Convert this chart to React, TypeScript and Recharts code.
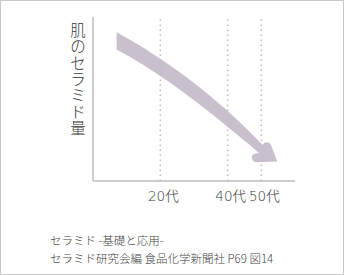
import React from "react";
import {
  Area,
  ComposedChart,
  ReferenceDot,
  ReferenceLine,
  XAxis,
  YAxis,
} from "recharts";

// age (years) along the band, with the upper / lower edge of the ceramide band
const bandAges = [7, 11, 15, 20, 25, 30, 35, 40, 45, 51];
const bandUpper = [90.7, 86.1, 81.2, 74.5, 67.4, 59.8, 51.6, 42.7, 33.1, 20.7];
const bandLower = [80.2, 75.6, 70.7, 64.0, 56.9, 49.3, 41.3, 33.0, 24.6, 14.0];

// tip of the arrow head
const headAge = 54.6;
const headValue = 11.5;

const decadeTicks = [20, 40, 50];
const yLabel = "肌のセラミド量";
const sourceLines = ["セラミド -基礎と応用-", "セラミド研究会編 食品化学新聞社 P69 図14"];

const FONT = '"Noto Sans CJK JP", "Noto Sans", sans-serif';
const TICK_FONT = '"DejaVu Sans", "Noto Sans CJK JP", sans-serif';
const BAND = "#c8c1cd";
const GRID = "#bdbdbd";
const INK = "#363636";

const data = bandAges.map((age, i) => ({
  age,
  band: [bandLower[i], bandUpper[i]],
}));

const DecadeTick = (props: any) => {
  const { x, y, payload } = props;
  return (
    <text
      x={x + 3}
      y={y + 13}
      textAnchor="middle"
      dominantBaseline="central"
      fill={INK}
      fontSize={13.5}
      fontWeight={300}
      fontFamily={TICK_FONT}
    >
      {`${payload.value}代`}
    </text>
  );
};

// y label, one character under the next
const VerticalLabel = () => (
  <g>
    {Array.from(yLabel).map((ch, i) => (
      <text
        key={i}
        x={77}
        y={28 + 16.3 * i}
        textAnchor="middle"
        dominantBaseline="central"
        fill={INK}
        fontSize={15.5}
        fontWeight={300}
        fontFamily={FONT}
      >
        {ch}
      </text>
    ))}
  </g>
);

// open chevron head, drawn as a thick stroke whose miter point is the tip
const ArrowHead = (props: any) => {
  const { cx, cy } = props;
  return (
    <path
      d="M -10 -15.5 L -6 -5 L -20.5 -4.5"
      transform={`translate(${cx},${cy})`}
      fill="none"
      stroke={BAND}
      strokeWidth={9}
      strokeLinejoin="miter"
      strokeLinecap="round"
    />
  );
};

export default function App() {
  return (
    <div
      style={{
        position: "absolute",
        left: 0,
        top: 0,
        width: 344,
        height: 275,
        boxSizing: "border-box",
        border: "1px solid #c9c9c9",
        background: "#fff",
        fontFamily: FONT,
      }}
    >
      <ComposedChart
        width={342}
        height={273}
        data={data}
        margin={{ top: 16, right: 48, bottom: 63, left: 82 }}
      >
        <XAxis
          dataKey="age"
          type="number"
          domain={[0, 60]}
          ticks={decadeTicks}
          tickLine={false}
          tickSize={0}
          tick={<DecadeTick />}
          axisLine={{ stroke: GRID, strokeWidth: 1.5 }}
          height={30}
        />
        <YAxis
          type="number"
          domain={[0, 100]}
          tick={false}
          tickLine={false}
          width={10}
          axisLine={{ stroke: GRID, strokeWidth: 1.5 }}
        />
        {decadeTicks.map((t) => (
          <ReferenceLine
            key={t}
            x={t}
            stroke={GRID}
            strokeWidth={1.5}
            strokeDasharray="1.5 3.5"
          />
        ))}
        <Area
          dataKey="band"
          type="monotone"
          stroke="none"
          fill={BAND}
          fillOpacity={1}
          isAnimationActive={false}
        />
        <ReferenceDot x={headAge} y={headValue} shape={<ArrowHead />} />
      </ComposedChart>
      <svg
        width={342}
        height={273}
        style={{ position: "absolute", left: 0, top: 0, pointerEvents: "none" }}
      >
        <VerticalLabel />
        {sourceLines.map((line, i) => (
          <text
            key={i}
            x={49}
            y={239 + 18 * i}
            dominantBaseline="central"
            fill="#444"
            fontSize={11.5}
            fontWeight={300}
            fontFamily={FONT}
          >
            {line}
          </text>
        ))}
      </svg>
    </div>
  );
}
